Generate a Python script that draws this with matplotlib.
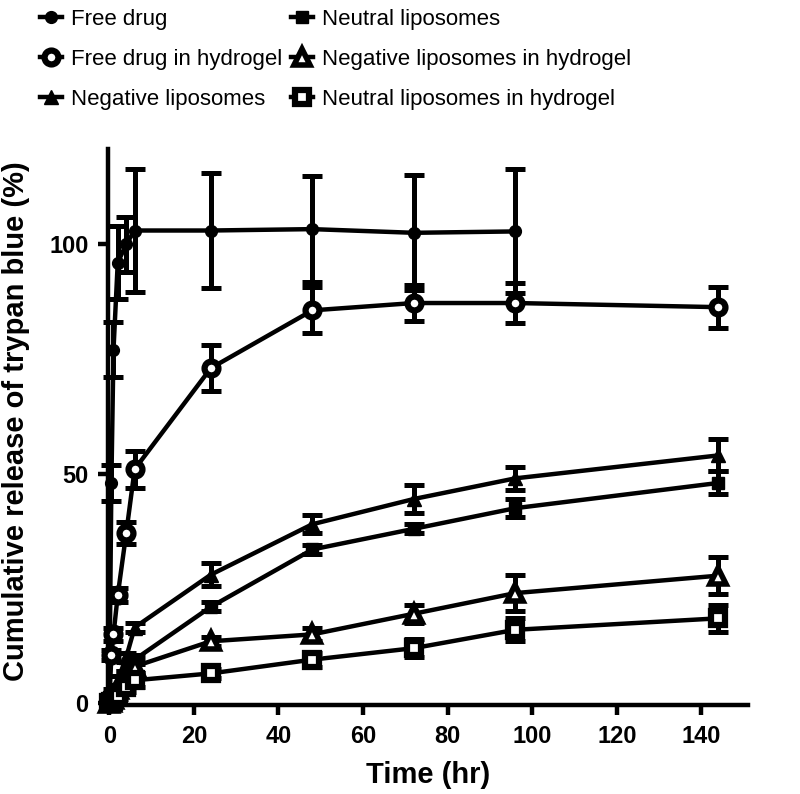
import matplotlib
matplotlib.use('Agg')
import matplotlib.pyplot as plt

plt.rcParams['font.family'] = ['Liberation Sans', 'DejaVu Sans']

# sampling times (hr)
time = [0, 0.5, 1, 2, 4, 6, 24, 48, 72, 96, 144]
time_free = time[:-1]

free_drug = [0, 48, 77, 96, 100, 103, 103, 103.3, 102.5, 102.8]
free_drug_err = [0, 4, 6, 8, 6, 13.5, 12.5, 11.5, 12.5, 13.5]

free_gel = [0, 10.5, 15, 23.5, 37, 51, 73, 85.6, 87.2, 87.2, 86.3]
free_gel_err = [0, 1, 1.5, 1.5, 2.4, 4, 5, 5, 4, 4.3, 4.5]

neg_lipo = [0, 1, 2.5, 5, 10, 16.5, 28, 39, 44.5, 49, 54]
neg_lipo_err = [0, 0.5, 0.5, 1, 1, 1, 2.5, 2, 3, 2.5, 3.5]

neu_lipo = [0, 0.5, 1.5, 3, 6, 9.5, 21, 33.5, 38, 42.5, 48]
neu_lipo_err = [0, 0.3, 0.5, 0.5, 1, 1, 1, 1, 1, 2, 2.5]

neg_gel = [0, 0.3, 1, 3, 6, 8, 13.5, 15, 19.5, 24, 27.8]
neg_gel_err = [0, 0.3, 0.5, 1, 1, 1.5, 1, 1.5, 2, 4, 4]

neu_gel = [0, 0.2, 0.5, 1.5, 3.5, 5, 6.5, 9.5, 12, 16, 18.5]
neu_gel_err = [0, 0.2, 0.3, 0.5, 1, 1.5, 1, 1.5, 2, 2.5, 3]

# name, x, y, err, marker, face colour, marker size, edge width
series = [
    ('Free drug', time_free, free_drug, free_drug_err, 'o', 'black', 8.5, 1),
    ('Free drug in hydrogel', time, free_gel, free_gel_err, 'o', 'white', 10, 4.5),
    ('Negative liposomes', time, neg_lipo, neg_lipo_err, '^', 'black', 10, 1),
    ('Neutral liposomes', time, neu_lipo, neu_lipo_err, 's', 'black', 9, 1),
    ('Negative liposomes in hydrogel', time, neg_gel, neg_gel_err, '^', 'white', 12, 4),
    ('Neutral liposomes in hydrogel', time, neu_gel, neu_gel_err, 's', 'white', 10, 4.5),
]

fig = plt.figure(figsize=(8, 7.94), dpi=100)
ax = fig.add_axes([0.135, 0.112, 0.80, 0.700])

handles = []
for name, t, y, err, mk, face, ms, mew in series:
    ax.errorbar(t, y, yerr=err, fmt='none', ecolor='black', elinewidth=3.6,
                capsize=7, capthick=3.6, clip_on=False, zorder=2)
    line, = ax.plot(t, y, color='black', lw=3.2, marker=mk, markersize=ms,
                    markerfacecolor=face, markeredgecolor='black',
                    markeredgewidth=mew, clip_on=False, zorder=3, label=name)
    handles.append(line)

ax.set_xlim(-0.3, 151)
ax.set_ylim(-0.4, 120.7)
ax.set_xticks(range(0, 141, 20))
ax.set_yticks([0, 50, 100])

for s in ['top', 'right']:
    ax.spines[s].set_visible(False)
for s in ['left', 'bottom']:
    ax.spines[s].set_linewidth(3.2)
ax.tick_params(width=3.2, length=7, pad=7, labelsize=17)
for lab in ax.get_xticklabels() + ax.get_yticklabels():
    lab.set_fontweight('bold')

ax.set_xlabel('Time (hr)', fontsize=21, fontweight='bold', labelpad=10)
ax.set_ylabel('Cumulative release of trypan blue (%)', fontsize=21,
              fontweight='bold')
ax.yaxis.set_label_coords(-0.122, 0.51)

fig.legend(handles=handles, loc='upper left', bbox_to_anchor=(0.025, 1.014),
           ncol=2, frameon=False, handlelength=1.0, handletextpad=0.4,
           columnspacing=0.4, labelspacing=0.85,
           prop={'family': ['Liberation Sans Narrow', 'Liberation Sans'], 'size': 16})

fig.savefig('out.png', dpi=100)
